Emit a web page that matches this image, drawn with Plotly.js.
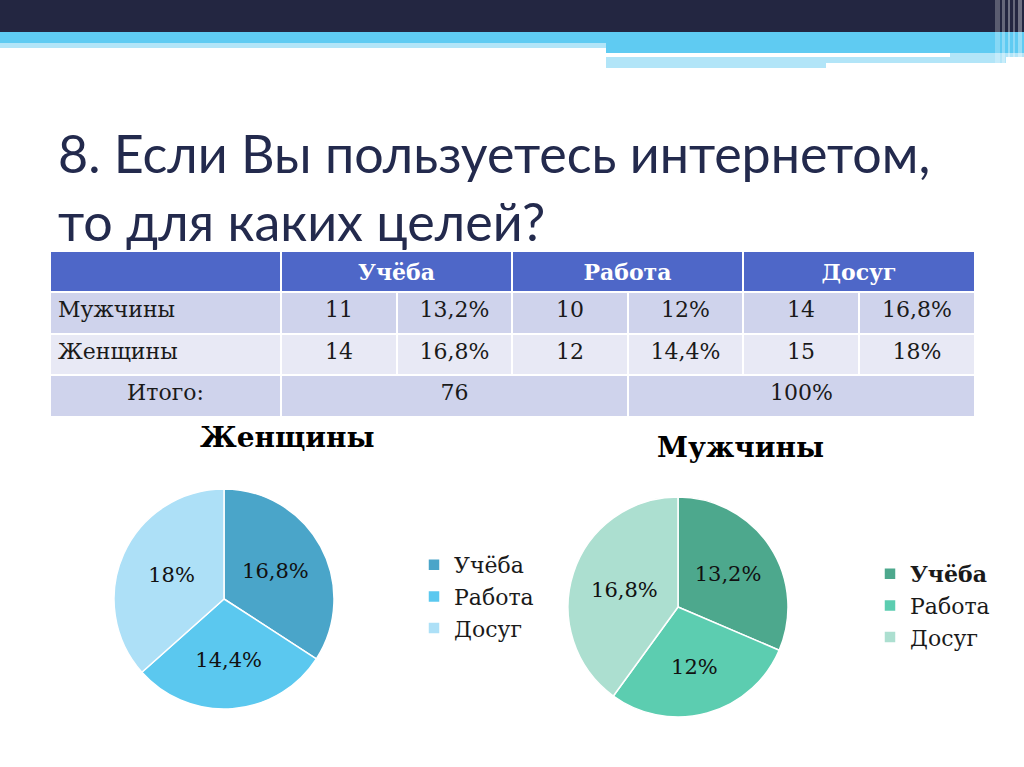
<!DOCTYPE html>
<html>
<head>
<meta charset="utf-8">
<script src="https://cdn.plot.ly/plotly-3.0.1.min.js"></script>
<style>
  html, body { margin: 0; padding: 0; background: #fff; }
  #plot { width: 1024px; height: 767px; }
</style>
</head>
<body>
<div id="plot"></div>
<script>
// survey data
const categories = ["Учёба", "Работа", "Досуг"];
const menCounts = [11, 10, 14];
const menShares = ["13,2%", "12%", "16,8%"];
const womenCounts = [14, 12, 15];
const womenShares = ["16,8%", "14,4%", "18%"];
const rowLabels = ["Мужчины", "Женщины"];
const totalLabel = "Итого:";
const totalCount = 76;
const totalShare = "100%";

const W = 1024, H = 767;
// pixel -> paper helpers
const px = x => x / W;
const py = y => 1 - y / H;

const serif = "DejaVu Serif, Liberation Serif, serif";
const headFill = "#4e67c8";
const rowDark = "#cfd3ec";
const rowLight = "#e8e9f5";

// one table trace per row, the row is drawn as the table's header
// (plotly tables can't merge cells, so each row gets its own column widths)
function tableRow(values, widths, top, bottom, fill, font, align) {
    return {
        type: "table",
        domain: { x: [px(50), px(975)], y: [py(bottom), py(top)] },
        columnwidth: widths,
        header: {
            values: values,
            fill: { color: fill },
            line: { color: "#ffffff", width: 2 },
            font: font,
            align: align,
            height: bottom - top
        },
        cells: { values: [] }
    };
}

const bodyFont = { family: serif, size: 22, color: "#1a1a1a" };
const bodyWidths = [231, 116, 115, 116, 115, 116, 116];
const bodyAlign = ["left", "center", "center", "center", "center", "center", "center"];

let menRow = [rowLabels[0]];
let womenRow = [rowLabels[1]];
for (let i = 0; i < categories.length; i++) {
    menRow.push(menCounts[i], menShares[i]);
    womenRow.push(womenCounts[i], womenShares[i]);
}

let headerTable = tableRow([""].concat(categories.map(c => "<b>" + c + "</b>")),
    [231, 231, 231, 232], 251, 292, headFill,
    { family: serif, size: 22, color: "#ffffff" }, "center");
let menTable = tableRow(menRow, bodyWidths, 292, 334, rowDark, bodyFont, bodyAlign);
let womenTable = tableRow(womenRow, bodyWidths, 334, 375, rowLight, bodyFont, bodyAlign);
let totalTable = tableRow([totalLabel, totalCount, totalShare], [231, 347, 347],
    375, 417, rowDark, bodyFont, "center");

const pieText = { family: serif, size: 21, color: "#111111" };

let womenPie = {
    type: "pie",
    labels: categories,
    values: womenCounts,
    text: womenShares,
    textinfo: "text",
    textposition: "inside",
    insidetextorientation: "horizontal",
    textfont: pieText,
    sort: false,
    direction: "clockwise",
    rotation: 0,
    marker: { colors: ["#4aa5c9", "#5bc8ef", "#ade0f7"], line: { color: "#ffffff", width: 1.5 } },
    domain: { x: [px(114), px(334)], y: [py(709), py(489)] },
    hoverinfo: "skip",
    legend: "legend"
};

// labels get a trailing space so this pie keeps its own legend entries
let menPie = {
    type: "pie",
    labels: categories.map((c, i) => i === 0 ? "<b>" + c + "</b>" : c + " "),
    values: menCounts,
    text: menShares,
    textinfo: "text",
    textposition: "inside",
    insidetextorientation: "horizontal",
    textfont: pieText,
    sort: false,
    direction: "clockwise",
    rotation: 0,
    marker: { colors: ["#4da88d", "#5ccdb0", "#acdfd0"], line: { color: "#ffffff", width: 1.5 } },
    domain: { x: [px(568), px(788)], y: [py(717), py(497)] },
    hoverinfo: "skip",
    legend: "legend2"
};

let data = [headerTable, menTable, womenTable, totalTable, womenPie, menPie];

// slide decoration bars at the top
function bar(x0, x1, y0, y1, color, opacity) {
    return {
        type: "rect", xref: "paper", yref: "paper",
        x0: px(x0), x1: px(x1), y0: py(y1), y1: py(y0),
        fillcolor: color, opacity: opacity || 1, line: { width: 0 }, layer: "below"
    };
}
let shapes = [
    bar(0, 1024, 0, 32, "#232641"),
    bar(0, 1024, 32, 43, "#5fcbf2"),
    bar(0, 606, 43, 48, "#b2e5f8"),
    bar(606, 1024, 43, 53, "#5fcbf2"),
    bar(950, 1024, 53, 57, "#b2e5f8"),
    bar(606, 1006, 57, 63, "#b2e5f8"),
    bar(606, 826, 63, 68, "#b2e5f8"),
    // faint vertical stripes at the right edge
    bar(995, 1000, 0, 66, "#ffffff", 0.25),
    bar(1002, 1005, 0, 66, "#ffffff", 0.3),
    bar(1008, 1010, 0, 66, "#ffffff", 0.35),
    bar(1013, 1015, 0, 66, "#ffffff", 0.3),
    bar(1018, 1022, 0, 66, "#ffffff", 0.35)
];

let titleFont = { family: "Lato, Open Sans, sans-serif", size: 52, color: "#232a4d" };
let annotations = [
    { text: "8. Если Вы пользуетесь интернетом,<br>то для каких целей?", x: px(56), y: py(187),
      xanchor: "left", yanchor: "middle", align: "left",
      xref: "paper", yref: "paper", showarrow: false, font: titleFont },
    { text: "<b>Женщины</b>", x: px(287), y: py(437), xanchor: "center", yanchor: "middle",
      xref: "paper", yref: "paper", showarrow: false, font: { family: serif, size: 28, color: "#000000" } },
    { text: "<b>Мужчины</b>", x: px(740), y: py(447), xanchor: "center", yanchor: "middle",
      xref: "paper", yref: "paper", showarrow: false, font: { family: serif, size: 28, color: "#000000" } }
];

let legendStyle = { font: { family: serif, size: 22, color: "#1a1a1a" }, bgcolor: "rgba(0,0,0,0)",
    xanchor: "left", yanchor: "top", xref: "paper", yref: "paper" };

let layout = {
    width: W,
    height: H,
    margin: { l: 0, r: 0, t: 0, b: 0 },
    paper_bgcolor: "#ffffff",
    showlegend: true,
    legend: Object.assign({ x: px(414), y: py(544) }, legendStyle),
    legend2: Object.assign({ x: px(870), y: py(553) }, legendStyle),
    shapes: shapes,
    annotations: annotations
};

Plotly.newPlot("plot", data, layout, { displayModeBar: false, staticPlot: true });
</script>
</body>
</html>
